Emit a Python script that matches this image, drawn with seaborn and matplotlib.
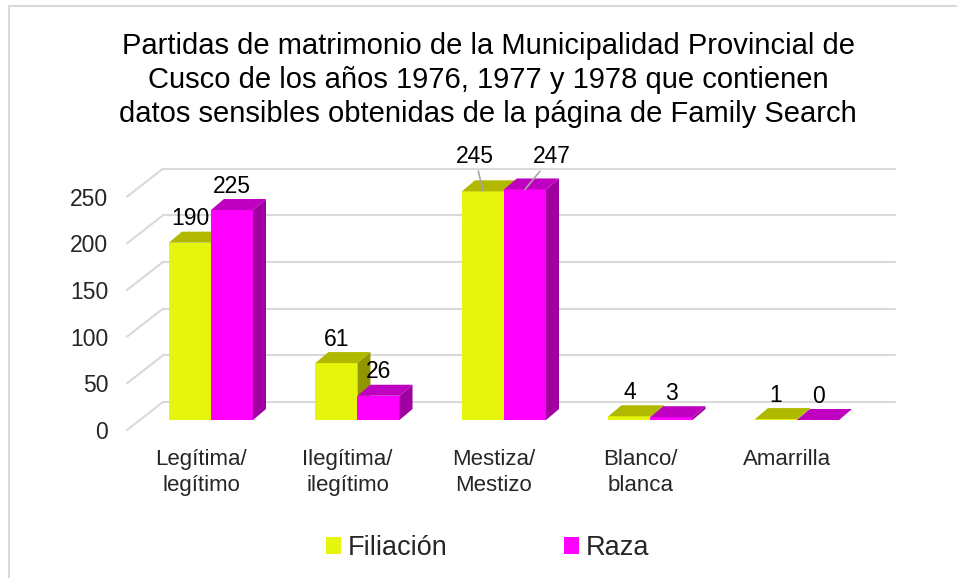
import pandas as pd
import seaborn as sns
import matplotlib.pyplot as plt
from matplotlib.patches import Polygon, Patch, Rectangle
from matplotlib.transforms import ScaledTranslation

categorias = ['Legítima/\nlegítimo', 'Ilegítima/\nilegítimo', 'Mestiza/\nMestizo',
              'Blanco/\nblanca', 'Amarrilla']
filiacion = [190, 61, 245, 4, 1]
raza = [225, 26, 247, 3, 0]
series = ['Filiación', 'Raza']
yticks = [0, 50, 100, 150, 200, 250]

titulo = ('Partidas de matrimonio de la Municipalidad Provincial de\n'
          'Cusco de los años 1976, 1977 y 1978 que contienen\n'
          'datos sensibles obtenidas de la página de Family Search')

front = {'Filiación': '#E6F50C', 'Raza': '#FF00FF'}
top = {'Filiación': '#B0B800', 'Raza': '#C000C0'}
side = {'Filiación': '#8F9600', 'Raza': '#A000A0'}

df = pd.DataFrame({
    'categoria': categorias * 2,
    'serie': [series[0]] * len(categorias) + [series[1]] * len(categorias),
    'valor': filiacion + raza,
})

sns.set_style('white')
plt.rcParams['font.family'] = ['Liberation Sans', 'DejaVu Sans']

W, H = 957, 578
fig = plt.figure(figsize=(W / 100, H / 100), dpi=100)
ax = fig.add_axes([127 / W, (H - 430) / H, 768 / W, 290 / H])

sns.barplot(data=df, x='categoria', y='valor', hue='serie', order=categorias,
            hue_order=series, palette=front, width=0.574, saturation=1,
            legend=False, ax=ax, zorder=2)

xl, xr = -0.573, 4.669
y_front, y_back = -10.7, 19.3
x_back = xl + 36 / 146.5
ax.set_xlim(xl, xr)
ax.set_ylim(-10.7, 300)

# pared del fondo y lineas diagonales
for v in yticks:
    ax.plot([xl, x_back], [v + y_front, v + y_back], color='#D9D9D9', lw=1.5,
            zorder=1, clip_on=False)
    ax.plot([x_back, xr], [v + y_back, v + y_back], color='#D9D9D9', lw=1.5,
            zorder=1, clip_on=False)

# caras 3D de las barras
ddx, ddy = 13 / 146.5, 11 / 0.933
for k, (cont, name) in enumerate(zip(ax.containers, series)):
    for bar in cont:
        x0, w, h = bar.get_x(), bar.get_width(), bar.get_height()
        x1 = x0 + w
        bar.set_zorder(2 + k)
        bar.set_edgecolor('none')
        ax.add_patch(Polygon([(x0, h), (x1, h), (x1 + ddx, h + ddy), (x0 + ddx, h + ddy)],
                             closed=True, fc=top[name], ec='none', zorder=2.5 + k))
        ax.add_patch(Polygon([(x1, 0), (x1, h), (x1 + ddx, h + ddy), (x1 + ddx, ddy)],
                             closed=True, fc=side[name], ec='none', zorder=2.4 + k))

# etiquetas de datos (desplazamiento en pixeles)
desplaz = {(0, 2): (-8, 35), (1, 2): (27, 33)}
for k, cont in enumerate(ax.containers):
    for i, bar in enumerate(cont):
        cx = bar.get_x() + bar.get_width() / 2
        h = bar.get_height()
        dx, dy = desplaz.get((k, i), (0, 24))
        props = None
        if (k, i) in desplaz:
            props = dict(arrowstyle='-', color='#A6A6A6', lw=1.2, shrinkA=0, shrinkB=0)
        ax.annotate(str(int(h)), xy=(cx, h), xytext=(dx * 0.72, dy * 0.72),
                    textcoords='offset points', ha='center', va='center',
                    fontsize=16.5, color='#000000', arrowprops=props, zorder=6)

ax.set_yticks([v + y_front for v in yticks])
ax.set_yticklabels([str(v) for v in yticks], fontsize=16.5)
ax.set_xticks(range(len(categorias)))
ax.set_xticklabels(categorias, fontsize=16, linespacing=1.3, va='top')
ax.tick_params(axis='y', length=0, pad=13.5)
ax.tick_params(axis='x', length=0, pad=14)
shift = ScaledTranslation(-10 / 100, 0, fig.dpi_scale_trans)
for lbl in ax.get_xticklabels():
    lbl.set_transform(lbl.get_transform() + shift)
ax.set_xlabel('')
ax.set_ylabel('')
for s in ax.spines.values():
    s.set_visible(False)
ax.patch.set_alpha(0)

fig.text(488 / W, 1 - 80 / H, titulo, ha='center', va='center', fontsize=21,
         linespacing=1.27, color='#000000')

handles = [Patch(facecolor=front[s], edgecolor='none', label=s) for s in series]
fig.legend(handles=handles, loc='center', bbox_to_anchor=(488 / W, 1 - 548 / H),
           ncol=2, frameon=False, fontsize=19.5, handlelength=0.55, handleheight=0.55,
           handletextpad=0.25, columnspacing=4.3)

fig.patches.append(Rectangle((9 / W, -0.1), 1.2, (H - 6) / H + 0.1,
                             transform=fig.transFigure, fill=False,
                             ec='#D9D9D9', lw=1.5))

fig.savefig('out.png', dpi=100, facecolor='white')
